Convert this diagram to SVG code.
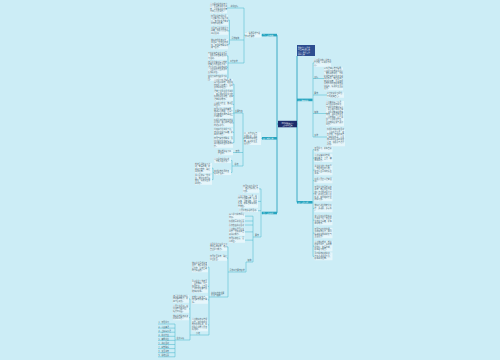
<svg xmlns="http://www.w3.org/2000/svg" width="500" height="360" viewBox="0 0 500 360">
<style>
.t{font-family:"Noto Sans CJK SC","Noto Sans",sans-serif;font-size:1.9px;fill:#41606c}
.w{font-family:"Noto Sans CJK SC","Noto Sans",sans-serif;font-size:1.7px;fill:#ffffff}
.bg{fill:#ffffff;fill-opacity:.5}
.c{fill:none;stroke:#42b4cb;stroke-width:.5}
.m{fill:none;stroke:#2aa3be;stroke-width:.9}
.n1{fill:#27a5c0}
</style>
<rect width="500" height="360" fill="#ccedf6"/>
<g id="connectors">
<path class="m" d="M277,35.1V212.9M277,124H278M297,56V202.3M297,124H297.5"/>
<path class="c" d="M262,35.1H261M245,35.1H244M244,8V63M244,8H227M244,40H229.5M229.5,20.15V44.15M229.5,20.15H228M229.5,30.9H228M229.5,44.15H228M244,63H228M228,55.9V78.15M228,55.9H227M228,67.4H227M228,78.15H227"/>
<path class="c" d="M262,138.3H261M244,138.3H243M243,113V166M243,113H234M234,84.15V142.65M234,84.15H233M234,95.65H233M234,104.45H233M234,113.15H233M234,122.9H233M234,132.4H233M234,142.65H233M243,152.5H233M243,166H232M232,160.45V172.45M232,160.45H231M232,172.45H231M214,172.45H213M213,168.15V179.65M213,168.15H212M213,179.65H212"/>
<path class="c" d="M262,213H261M261,188.9V237M261,188.9H259M261,201.4H258M261,210.7H258M261,237H253M253,216.15V262M253,216.15H245M253,221H245M253,225H245M253,231.9H245M253,240.15H245M253,262H246M246,262V272M246,272H228M228,246.9V297M228,246.9H227M228,258.15H227M228,297H209M209,267.15V335M209,267.15H208M209,286.4H208M209,299.9H208M209,324.9H208M209,335H190M190,298.9V340M190,298.9H189M190,308.9H189M190,317.65H189M190,340H175M175,324V356.8M175,324H158M175,328.1H158M175,332.2H158M175,336.3H158M175,340.4H158M175,344.5H158M175,348.6H158M175,352.7H158M175,356.8H158"/>
<path class="c" d="M312.5,99.9H313M313,62.9V137M313,62.9H314M313,78.5H324M313,95H327M313,113.5H326M313,137H327M312.5,202.3H313M313,149.65V256.4M313,149.65H314.5M313,158.1H314.5M313,170.15H314.5M313,180.65H314.5M313,193.65H314.5M313,208.4H314.5M313,220.15H314.5M313,233.15H314.5M313,246.15H314.5M313,256.4H314.5"/>
</g>
<g id="root"><rect x="278" y="120.8" width="19" height="6.5" fill="#1d2c6c"/><text class="w" text-anchor="middle"><tspan x="287.5" y="123.6">2024年教师个人</tspan><tspan x="287.5" y="126.1">工作计划范文</tspan></text></g>
<g id="topbox"><rect x="297" y="45" width="18" height="11" fill="#2c4d90"/><text class="w"><tspan x="298" y="47.6">教师个人工作计</tspan><tspan x="298" y="50.1">划范文精选汇总</tspan><tspan x="298" y="52.6">篇一：教学工作</tspan><tspan x="298" y="55.1">计划安排</tspan></text></g>
<g id="L1"><rect class="n1" x="262" y="33.8" width="15" height="2.6"/><text class="w" x="263" y="35.7">三、工作措施</text></g>
<g id="L2"><rect class="n1" x="262" y="137" width="15" height="2.6"/><text class="w" x="263" y="138.9">四、具体安排</text></g>
<g id="L3"><rect class="n1" x="262" y="211.7" width="15" height="2.6"/><text class="w" x="263" y="213.6">五、工作计划</text></g>
<g id="R1"><rect class="n1" x="297" y="98.6" width="15.5" height="2.6"/><text class="w" x="298" y="100.5">一、指导思想</text></g>
<g id="R2"><rect class="n1" x="297" y="201" width="15.5" height="2.6"/><text class="w" x="298" y="202.9">二、工作目标</text></g>
<g id="L1t"><rect class="bg" x="245" y="32.2" width="16" height="5.3"/><text class="t"><tspan x="245" y="34.1">一、指导思想与总</tspan><tspan x="245" y="36.6">体工作要求</tspan></text></g>
<g id="lab1"><text class="t" x="230.5" y="7.4">教学目标</text></g>
<g id="lab2"><text class="t" x="231.5" y="39.4">具体措施</text></g>
<g id="lab3"><text class="t" x="230" y="62.4">工作安排</text></g>
<g id="b1"><rect class="bg" x="210" y="3" width="17" height="10.3"/><text class="t"><tspan x="210" y="4.9">认真贯彻党的教育方</tspan><tspan x="210" y="7.4">针，全面推进素质教</tspan><tspan x="210" y="9.9">育，以提高教学质量</tspan><tspan x="210" y="12.4">为中心开展工作。</tspan></text></g>
<g id="b2"><rect class="bg" x="211" y="15" width="17" height="10.3"/><text class="t"><tspan x="211" y="16.9">加强教学常规管理，</tspan><tspan x="211" y="19.4">认真备课精心设计教</tspan><tspan x="211" y="21.9">案，努力提高课堂教</tspan><tspan x="211" y="24.4">学效率和质量。</tspan></text></g>
<g id="b3"><rect class="bg" x="211" y="27" width="17" height="7.8"/><text class="t"><tspan x="211" y="28.9">注重培养学生的学习</tspan><tspan x="211" y="31.4">兴趣，积极开展各项</tspan><tspan x="211" y="33.9">教研活动。</tspan></text></g>
<g id="b4"><rect class="bg" x="211" y="39" width="17" height="10.3"/><text class="t"><tspan x="211" y="40.9">做好培优补差工作，</tspan><tspan x="211" y="43.4">关注每一位学生的成</tspan><tspan x="211" y="45.9">长，加强家校联系沟</tspan><tspan x="211" y="48.4">通与合作。</tspan></text></g>
<g id="b5"><rect class="bg" x="208" y="52" width="19" height="7.8"/><text class="t"><tspan x="208" y="53.9">不断提高自身业务水平</tspan><tspan x="208" y="56.4">，积极参加各类培训学</tspan><tspan x="208" y="58.9">习活动。</tspan></text></g>
<g id="b6"><rect class="bg" x="208" y="61" width="19" height="12.8"/><text class="t"><tspan x="208" y="62.9">结合学生实际情况制定</tspan><tspan x="208" y="65.4">切实可行的教学计划，</tspan><tspan x="208" y="67.9">课后及时反思总结经验</tspan><tspan x="208" y="70.4">，认真批改作业并及时</tspan><tspan x="208" y="72.9">反馈给学生。</tspan></text></g>
<g id="b7"><rect class="bg" x="208" y="75.5" width="19" height="5.3"/><text class="t"><tspan x="208" y="77.4">营造良好的班级学习氛</tspan><tspan x="208" y="79.9">围。</tspan></text></g>
<g id="L2t"><rect class="bg" x="244" y="132.2" width="17" height="12.8"/><text class="t"><tspan x="244" y="134.1">二、工作目标与</tspan><tspan x="244" y="136.6">主要任务：全面</tspan><tspan x="244" y="139.1">提高教育教学质</tspan><tspan x="244" y="141.6">量，促进学生全</tspan><tspan x="244" y="144.1">面发展。</tspan></text></g>
<g id="lab4"><text class="t" x="235" y="112.4">主要内容</text></g>
<g id="lab5"><text class="t" x="235.5" y="151.9">其他</text></g>
<g id="lab6"><text class="t" x="234.5" y="165.4">总结</text></g>
<g id="c1"><rect class="bg" x="214" y="79" width="19" height="10.3"/><text class="t"><tspan x="214" y="80.9">认真学习新课程标准，</tspan><tspan x="214" y="83.4">深入钻研教材，把握教</tspan><tspan x="214" y="85.9">材的重点和难点，合理</tspan><tspan x="214" y="88.4">安排教学进度。</tspan></text></g>
<g id="c2"><rect class="bg" x="214" y="90.5" width="19" height="10.3"/><text class="t"><tspan x="214" y="92.4">课堂上注重启发式教学</tspan><tspan x="214" y="94.9">，充分调动学生学习的</tspan><tspan x="214" y="97.4">积极性和主动性，提高</tspan><tspan x="214" y="99.9">课堂教学效率。</tspan></text></g>
<g id="c3"><rect class="bg" x="214" y="101.8" width="19" height="5.3"/><text class="t"><tspan x="214" y="103.7">认真批改作业，做到全</tspan><tspan x="214" y="106.2">批全改。</tspan></text></g>
<g id="c4"><rect class="bg" x="214" y="108" width="19" height="10.3"/><text class="t"><tspan x="214" y="109.9">加强对学困生的辅导，</tspan><tspan x="214" y="112.4">做到耐心细致，让每个</tspan><tspan x="214" y="114.9">学生都能在原有基础上</tspan><tspan x="214" y="117.4">得到提高。</tspan></text></g>
<g id="c5"><rect class="bg" x="214" y="119" width="19" height="7.8"/><text class="t"><tspan x="214" y="120.9">积极参加学校组织的教</tspan><tspan x="214" y="123.4">研活动，虚心向有经验</tspan><tspan x="214" y="125.9">的老师学习。</tspan></text></g>
<g id="c6"><rect class="bg" x="214" y="128.5" width="19" height="7.8"/><text class="t"><tspan x="214" y="130.4">利用现代化教学手段，</tspan><tspan x="214" y="132.9">激发学生学习兴趣，提</tspan><tspan x="214" y="135.4">高学习效果。</tspan></text></g>
<g id="c7"><rect class="bg" x="214" y="137.5" width="19" height="10.3"/><text class="t"><tspan x="214" y="139.4">加强与家长的联系，及</tspan><tspan x="214" y="141.9">时了解学生在家情况，</tspan><tspan x="214" y="144.4">共同做好学生的教育工</tspan><tspan x="214" y="146.9">作。</tspan></text></g>
<g id="c8"><rect class="bg" x="218" y="150" width="15" height="5.3"/><text class="t"><tspan x="218" y="151.9">做好期末复习工</tspan><tspan x="218" y="154.4">作安排。</tspan></text></g>
<g id="c9"><rect class="bg" x="214" y="157.8" width="17" height="5.3"/><text class="t"><tspan x="214" y="159.7">认真总结教学经验</tspan><tspan x="214" y="162.2">，不断改进方法。</tspan></text></g>
<g id="c10"><rect class="bg" x="214" y="169.8" width="17" height="5.3"/><text class="t"><tspan x="214" y="171.7">完成学校布置的各</tspan><tspan x="214" y="174.2">项工作任务。</tspan></text></g>
<g id="d1"><rect class="bg" x="195" y="163" width="17" height="10.3"/><text class="t"><tspan x="195" y="164.9">制定合理的复习计</tspan><tspan x="195" y="167.4">划，查漏补缺，提</tspan><tspan x="195" y="169.9">高复习效率，确保</tspan><tspan x="195" y="172.4">教学质量。</tspan></text></g>
<g id="d2"><rect class="bg" x="195" y="174.5" width="17" height="10.3"/><text class="t"><tspan x="195" y="176.4">关心爱护每一位学</tspan><tspan x="195" y="178.9">生，做学生的良师</tspan><tspan x="195" y="181.4">益友，促进学生健</tspan><tspan x="195" y="183.9">康成长。</tspan></text></g>
<g id="e1"><rect class="bg" x="243" y="185" width="16" height="7.8"/><text class="t"><tspan x="243" y="186.9">加强班级管理工作</tspan><tspan x="243" y="189.4">，培养良好的行为</tspan><tspan x="243" y="191.9">习惯。</tspan></text></g>
<g id="e2"><rect class="bg" x="238" y="195" width="20" height="12.8"/><text class="t"><tspan x="238" y="196.9">认真上好每一节课，向</tspan><tspan x="238" y="199.4">四十分钟要质量，精讲</tspan><tspan x="238" y="201.9">多练，当堂训练，及时</tspan><tspan x="238" y="204.4">反馈，提高课堂教学的</tspan><tspan x="238" y="206.9">有效性。</tspan></text></g>
<g id="e3"><rect class="bg" x="239" y="209.3" width="19" height="2.8"/><text class="t" x="239" y="211.2">开展丰富多彩的活动。</text></g>
<g id="lab7"><text class="t" x="255" y="236.4">要求</text></g>
<g id="f1"><rect class="bg" x="229" y="213.5" width="16" height="5.3"/><text class="t"><tspan x="229" y="215.4">深入学习教育理论</tspan><tspan x="229" y="217.9">知识。</tspan></text></g>
<g id="f2"><rect class="bg" x="229" y="219.6" width="16" height="2.8"/><text class="t" x="229" y="221.5">积极撰写教学反思</text></g>
<g id="f3"><rect class="bg" x="229" y="223.6" width="16" height="2.8"/><text class="t" x="229" y="225.5">参加各级教研活动</text></g>
<g id="f4"><rect class="bg" x="229" y="228" width="16" height="7.8"/><text class="t"><tspan x="229" y="229.9">认真做好课题研究</tspan><tspan x="229" y="232.4">工作，不断提高自</tspan><tspan x="229" y="234.9">身科研能力。</tspan></text></g>
<g id="f5"><rect class="bg" x="229" y="237.5" width="16" height="5.3"/><text class="t"><tspan x="229" y="239.4">加强师德修养，爱</tspan><tspan x="229" y="241.9">岗敬业。</tspan></text></g>
<g id="lab8"><text class="t" x="247.5" y="261.4">措施</text></g>
<g id="lab9"><text class="t" x="229.5" y="271.4">具体工作要求安排</text></g>
<g id="g1"><rect class="bg" x="210" y="243" width="17" height="7.8"/><text class="t"><tspan x="210" y="244.9">注重学生良好学习习</tspan><tspan x="210" y="247.4">惯的养成教育，培养</tspan><tspan x="210" y="249.9">自主学习能力。</tspan></text></g>
<g id="g2"><rect class="bg" x="210" y="255.5" width="17" height="5.3"/><text class="t"><tspan x="210" y="257.4">加强安全教育，确保</tspan><tspan x="210" y="259.9">学生安全。</tspan></text></g>
<g id="lab10"><text class="t"><tspan x="211" y="293.8">教学工作的主要</tspan><tspan x="211" y="296.3">方法与措施</tspan></text></g>
<g id="h1"><rect class="bg" x="192" y="262" width="16" height="10.3"/><text class="t"><tspan x="192" y="263.9">做好学生思想教育</tspan><tspan x="192" y="266.4">工作，培养学生热</tspan><tspan x="192" y="268.9">爱集体、团结互助</tspan><tspan x="192" y="271.4">的良好品质。</tspan></text></g>
<g id="h2"><rect class="bg" x="192" y="280" width="16" height="12.8"/><text class="t"><tspan x="192" y="281.9">重视学生个体差异</tspan><tspan x="192" y="284.4">，因材施教，分层</tspan><tspan x="192" y="286.9">布置作业，让不同</tspan><tspan x="192" y="289.4">层次的学生都有所</tspan><tspan x="192" y="291.9">收获和提高。</tspan></text></g>
<g id="h2b"><rect class="bg" x="192" y="296" width="16" height="7.8"/><text class="t"><tspan x="192" y="297.9">定期召开家长会，</tspan><tspan x="192" y="300.4">加强家校沟通与联</tspan><tspan x="192" y="302.9">系。</tspan></text></g>
<g id="h3"><rect class="bg" x="192" y="318.5" width="16" height="12.8"/><text class="t"><tspan x="192" y="320.4">认真做好各项常规</tspan><tspan x="192" y="322.9">工作，按时完成学</tspan><tspan x="192" y="325.4">校布置的任务，积</tspan><tspan x="192" y="327.9">极配合学校开展各</tspan><tspan x="192" y="330.4">项活动。</tspan></text></g>
<g id="lab11"><text class="t" x="196" y="334.4">小结</text></g>
<g id="k1"><rect class="bg" x="173" y="295" width="16" height="7.8"/><text class="t"><tspan x="173" y="296.9">培养学生的创新精</tspan><tspan x="173" y="299.4">神和实践能力，提</tspan><tspan x="173" y="301.9">高综合素质。</tspan></text></g>
<g id="k2"><rect class="bg" x="173" y="305" width="16" height="7.8"/><text class="t"><tspan x="173" y="306.9">开展读书活动，营</tspan><tspan x="173" y="309.4">造书香班级氛围，</tspan><tspan x="173" y="311.9">拓展知识面。</tspan></text></g>
<g id="k3"><rect class="bg" x="173" y="315" width="16" height="5.3"/><text class="t"><tspan x="173" y="316.9">做好学期总结和资</tspan><tspan x="173" y="319.4">料整理工作。</tspan></text></g>
<g id="lab12"><text class="t" x="176.5" y="339.4">注意事项</text></g>
<g id="list"><text class="t"><tspan x="158.5" y="323.4">1、加强学习</tspan><tspan x="158.5" y="327.5">2、认真备课</tspan><tspan x="158.5" y="331.6">3、上好每节课</tspan><tspan x="158.5" y="335.7">4、批改作业</tspan><tspan x="158.5" y="339.8">5、辅导学生</tspan><tspan x="158.5" y="343.9">6、教研活动</tspan><tspan x="158.5" y="348">7、家校联系</tspan><tspan x="158.5" y="352.1">8、安全教育</tspan><tspan x="158.5" y="356.2">9、总结反思</tspan></text></g>
<g id="ra"><rect class="bg" x="314" y="59" width="17" height="7.8"/><text class="t"><tspan x="314" y="60.9">认真贯彻执行学校工</tspan><tspan x="314" y="63.4">作计划，以教学为中</tspan><tspan x="314" y="65.9">心。</tspan></text></g>
<g id="labb"><text class="t" x="314.3" y="77.9">目标</text></g>
<g id="labc"><text class="t" x="314.3" y="94.4">要求</text></g>
<g id="labd"><text class="t" x="314.3" y="112.9">措施</text></g>
<g id="labe"><text class="t" x="314.3" y="136.4">安排</text></g>
<g id="rb"><rect class="bg" x="324" y="67.5" width="19" height="22.8"/><text class="t"><tspan x="324" y="69.4">以新课程标准为指导，</tspan><tspan x="324" y="71.9">认真学习教育教学理论</tspan><tspan x="324" y="74.4">，更新教育观念，不断</tspan><tspan x="324" y="76.9">提高自身的业务素质和</tspan><tspan x="324" y="79.4">教学水平，努力提高课</tspan><tspan x="324" y="81.9">堂教学质量，全面完成</tspan><tspan x="324" y="84.4">学校布置的各项教育教</tspan><tspan x="324" y="86.9">学任务，促进学生全面</tspan><tspan x="324" y="89.4">发展。</tspan></text></g>
<g id="rc"><rect class="bg" x="327" y="92.5" width="17" height="5.3"/><text class="t"><tspan x="327" y="94.4">树立终身学习理念，</tspan><tspan x="327" y="96.9">不断充实自己。</tspan></text></g>
<g id="rd"><rect class="bg" x="326" y="101" width="18" height="25.3"/><text class="t"><tspan x="326" y="102.9">认真备好每一节课，</tspan><tspan x="326" y="105.4">深入钻研教材教法，</tspan><tspan x="326" y="107.9">了解学生的实际情况</tspan><tspan x="326" y="110.4">，精心设计教学过程</tspan><tspan x="326" y="112.9">，注重课堂教学的实</tspan><tspan x="326" y="115.4">效性，面向全体学生</tspan><tspan x="326" y="117.9">，因材施教，分层教</tspan><tspan x="326" y="120.4">学，认真批改作业，</tspan><tspan x="326" y="122.9">及时做好反馈与讲评</tspan><tspan x="326" y="125.4">工作。</tspan></text></g>
<g id="re"><rect class="bg" x="327" y="128.5" width="18" height="17.8"/><text class="t"><tspan x="327" y="130.4">积极参加教研组活动</tspan><tspan x="327" y="132.9">，认真听课评课，取</tspan><tspan x="327" y="135.4">长补短，不断提高自</tspan><tspan x="327" y="137.9">己的教学水平，认真</tspan><tspan x="327" y="140.4">撰写教学反思和教学</tspan><tspan x="327" y="142.9">论文，积极参与课题</tspan><tspan x="327" y="145.4">研究。</tspan></text></g>
<g id="r1"><rect class="bg" x="314.5" y="147" width="18" height="5.3"/><text class="t"><tspan x="314.5" y="148.9">加强学习，提高自身</tspan><tspan x="314.5" y="151.4">素质。</tspan></text></g>
<g id="r2"><rect class="bg" x="314.5" y="154.2" width="18" height="7.8"/><text class="t"><tspan x="314.5" y="156.1">认真落实教学常规，</tspan><tspan x="314.5" y="158.6">做好备课、上课、辅</tspan><tspan x="314.5" y="161.1">导等工作。</tspan></text></g>
<g id="r3"><rect class="bg" x="314.5" y="165" width="18" height="10.3"/><text class="t"><tspan x="314.5" y="166.9">关注学生的个体差异</tspan><tspan x="314.5" y="169.4">，尊重学生的人格，</tspan><tspan x="314.5" y="171.9">建立民主平等的师生</tspan><tspan x="314.5" y="174.4">关系。</tspan></text></g>
<g id="r4"><rect class="bg" x="314.5" y="178" width="18" height="5.3"/><text class="t"><tspan x="314.5" y="179.9">积极开展第二课堂活</tspan><tspan x="314.5" y="182.4">动。</tspan></text></g>
<g id="r5"><rect class="bg" x="314.5" y="186" width="18" height="15.3"/><text class="t"><tspan x="314.5" y="187.9">加强学生的思想品德</tspan><tspan x="314.5" y="190.4">教育，培养学生良好</tspan><tspan x="314.5" y="192.9">的行为习惯和学习习</tspan><tspan x="314.5" y="195.4">惯，使学生养成认真</tspan><tspan x="314.5" y="197.9">听讲、按时完成作业</tspan><tspan x="314.5" y="200.4">的好习惯。</tspan></text></g>
<g id="r6"><rect class="bg" x="314.5" y="204.5" width="18" height="7.8"/><text class="t"><tspan x="314.5" y="206.4">做好后进生的转化工</tspan><tspan x="314.5" y="208.9">作，多鼓励，多表扬</tspan><tspan x="314.5" y="211.4">。</tspan></text></g>
<g id="r7"><rect class="bg" x="314.5" y="215" width="18" height="10.3"/><text class="t"><tspan x="314.5" y="216.9">充分利用多媒体等现</tspan><tspan x="314.5" y="219.4">代教学手段，激发学</tspan><tspan x="314.5" y="221.9">生的学习兴趣，提高</tspan><tspan x="314.5" y="224.4">教学效率。</tspan></text></g>
<g id="r8"><rect class="bg" x="314.5" y="228" width="18" height="10.3"/><text class="t"><tspan x="314.5" y="229.9">加强与家长的沟通，</tspan><tspan x="314.5" y="232.4">形成教育合力，共同</tspan><tspan x="314.5" y="234.9">促进学生健康成长与</tspan><tspan x="314.5" y="237.4">全面发展。</tspan></text></g>
<g id="r9"><rect class="bg" x="314.5" y="241" width="18" height="10.3"/><text class="t"><tspan x="314.5" y="242.9">认真做好期中、期末</tspan><tspan x="314.5" y="245.4">的复习工作，系统梳</tspan><tspan x="314.5" y="247.9">理知识，查漏补缺，</tspan><tspan x="314.5" y="250.4">提高复习效果。</tspan></text></g>
<g id="r10"><rect class="bg" x="314.5" y="252.5" width="18" height="7.8"/><text class="t"><tspan x="314.5" y="254.4">及时总结经验教训，</tspan><tspan x="314.5" y="256.9">不断改进教学方法，</tspan><tspan x="314.5" y="259.4">提高教学质量。</tspan></text></g>
</svg>
